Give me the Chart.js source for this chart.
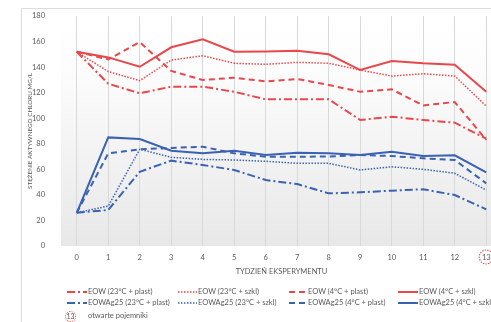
<!DOCTYPE html>
<html><head><meta charset="utf-8">
<script src="https://cdn.jsdelivr.net/npm/chart.js@4.4.0/dist/chart.umd.min.js"></script>
<style>
html,body{margin:0;padding:0;background:#fff;overflow:hidden;width:491px;height:322px;position:relative;}
#frame{position:absolute;left:21px;top:8px;width:500px;height:330px;border:1px solid #dcdcdc;box-sizing:border-box;}
#wrap{position:absolute;left:0;top:0;width:505px;height:280px;}
#legend{position:absolute;left:0;top:0;width:491px;height:322px;font-family:Lato,'Liberation Sans',sans-serif;font-size:7.5px;color:#595959;}
.sw{position:absolute;}
.tx{position:absolute;white-space:nowrap;line-height:10px;}
.circ{position:absolute;width:11px;height:11px;border:1px dotted #e8474b;border-radius:50%;box-sizing:border-box;text-align:center;line-height:9px;font-size:7px;}
</style>
</head><body>
<div id="frame"></div>
<div id="wrap"><canvas id="c" width="505" height="280"></canvas></div>
<div id="legend"></div>
<script>
const weeks = ['0','1','2','3','4','5','6','7','8','9','10','11','12','13'];
const eow23plast = [152,127,119.5,124.7,124.7,120.7,114.8,114.8,114.8,98.6,101.2,98.6,96.5,84];
const eow23szkl  = [152,136.5,129.4,145.5,148.9,143,142.2,143.7,143,137.7,133,134.8,133,109.5];
const eow4plast  = [152,146,159.6,137,129.9,131.7,128.8,130.7,126,120.7,122.6,110,112.7,83];
const eow4szkl   = [152,147.6,140.3,155.5,161.7,152,152.3,152.8,150,137.7,144.8,143,141.9,120.7];
const ag23plast  = [26,28.2,58.1,66.8,63.4,59.5,51.6,48.5,41.2,42,43.3,44.4,39.9,28.7];
const ag23szkl   = [26,31.3,75.7,69.4,67.8,67.3,66.3,64.7,64.7,59.5,62,60,56.9,43.8];
const ag4plast   = [26,72.5,75.7,76.7,77.7,72.5,69.9,69.9,70,71.2,70.4,68.6,67.3,49];
const ag4szkl    = [26,85,83.7,74.6,72.5,74.6,71.2,73,72.5,71.2,73.8,70.4,71,57.6];
const seriesNames = ['EOW (23°C + plast)','EOW (23°C + szkl)','EOW (4°C + plast)','EOW (4°C + szkl)',
  'EOWAg25 (23°C + plast)','EOWAg25 (23°C + szkl)','EOWAg25 (4°C + plast)','EOWAg25 (4°C + szkl)'];
const yTitle = 'STĘŻENIE AKTYWNEGO CHLORU MG/L';
const xTitle = 'TYDZIEŃ EKSPERYMENTU';
const noteText = 'otwarte pojemniki';

const RED = '#e8474b', BLUE = '#3a62b3';
const DASHDOT = [8,3,2,3], DOT = [1.5,1.5], DASH = [6,4], SOLID = [];
const styles = [
  {c:RED,d:DASHDOT,w:2},{c:RED,d:DOT,w:1.5},{c:RED,d:DASH,w:2},{c:RED,d:SOLID,w:2},
  {c:BLUE,d:DASHDOT,w:2},{c:BLUE,d:DOT,w:1.5},{c:BLUE,d:DASH,w:2},{c:BLUE,d:SOLID,w:2}
];
const values = [eow23plast,eow23szkl,eow4plast,eow4szkl,ag23plast,ag23szkl,ag4plast,ag4szkl];

const datasets = values.map((v,i)=>({
  label: seriesNames[i], data: v, borderColor: styles[i].c, backgroundColor: styles[i].c,
  borderDash: styles[i].d, borderWidth: styles[i].w, pointRadius: 0, tension: 0, fill:false
}));

const bgPlugin = {
  id:'bg',
  beforeDraw(chart){
    const {ctx, chartArea:a} = chart;
    const g = ctx.createLinearGradient(0,a.top,0,a.bottom);
    g.addColorStop(0,'#ffffff'); g.addColorStop(0.25,'#fcfcfc'); g.addColorStop(1,'#e8e8e8');
    ctx.save(); ctx.fillStyle = g; ctx.fillRect(a.left,a.top,a.right-a.left,a.bottom-a.top); ctx.restore();
  },
  afterDraw(chart){
    const xs = chart.scales.x, ctx = chart.ctx;
    const x = xs.getPixelForValue(13), y = chart.chartArea.bottom + 11;
    ctx.save(); ctx.strokeStyle = RED; ctx.lineWidth = 1.2; ctx.setLineDash([1.3,1.3]);
    ctx.beginPath(); ctx.arc(x,y,7,0,Math.PI*2); ctx.stroke(); ctx.restore();
  }
};

const font = {family:"Lato, 'Liberation Sans', sans-serif", size:7.5};
new Chart(document.getElementById('c'), {
  type:'line',
  data:{labels:weeks, datasets},
  plugins:[bgPlugin],
  options:{
    responsive:false, animation:false,
    layout:{padding:{top:16,right:3,left:0,bottom:0}},
    plugins:{legend:{display:false}, tooltip:{enabled:false}},
    scales:{
      x:{type:'category', offset:true,
        grid:{color:'#d9d9d9', drawTicks:false, offset:false, lineWidth:1},
        border:{display:false},
        ticks:{padding:7, color:'#595959', font, maxRotation:0, autoSkip:false},
        title:{display:true, text:xTitle, color:'#595959', font, padding:{top:2,bottom:4}},
        afterFit(s){ s.height = 34; }
      },
      y:{min:0,max:180,
        grid:{display:false}, border:{display:false},
        ticks:{stepSize:20, padding:8, color:'#595959', font},
        title:{display:true, text:yTitle, color:'#595959', font:{...font,size:6.3}, padding:{top:26,bottom:0}},
        afterFit(s){ s.width = 61; }
      }
    }
  }
});

// HTML legend
const leg = document.getElementById('legend');
const cols = [{sx:67,sw:20,tx:88},{sx:178,sw:19,tx:198},{sx:289,sw:17,tx:308},{sx:398,sw:20,tx:419}];
const rowsY = [292,303];
seriesNames.forEach((name,i)=>{
  const r = Math.floor(i/4), c = i%4, st = styles[i];
  const y = rowsY[r];
  const svg = document.createElementNS('http://www.w3.org/2000/svg','svg');
  svg.setAttribute('width',cols[c].sw); svg.setAttribute('height',4);
  svg.setAttribute('class','sw');
  svg.style.left = cols[c].sx+'px'; svg.style.top = (y-2)+'px';
  const ln = document.createElementNS('http://www.w3.org/2000/svg','line');
  ln.setAttribute('x1',0); ln.setAttribute('x2',cols[c].sw); ln.setAttribute('y1',2); ln.setAttribute('y2',2);
  ln.setAttribute('stroke',st.c); ln.setAttribute('stroke-width',st.w);
  if(st.d.length) ln.setAttribute('stroke-dasharray',st.d.join(','));
  svg.appendChild(ln); leg.appendChild(svg);
  const t = document.createElement('div'); t.className='tx'; t.textContent=name;
  t.style.left = cols[c].tx+'px'; t.style.top=(y-5)+'px'; leg.appendChild(t);
});
const circ = document.createElement('div'); circ.className='circ'; circ.textContent = weeks[13];
circ.style.left='65px'; circ.style.top='311px'; leg.appendChild(circ);
const nt = document.createElement('div'); nt.className='tx'; nt.textContent = noteText;
nt.style.left='88px'; nt.style.top='311px'; leg.appendChild(nt);
</script>
</body></html>
